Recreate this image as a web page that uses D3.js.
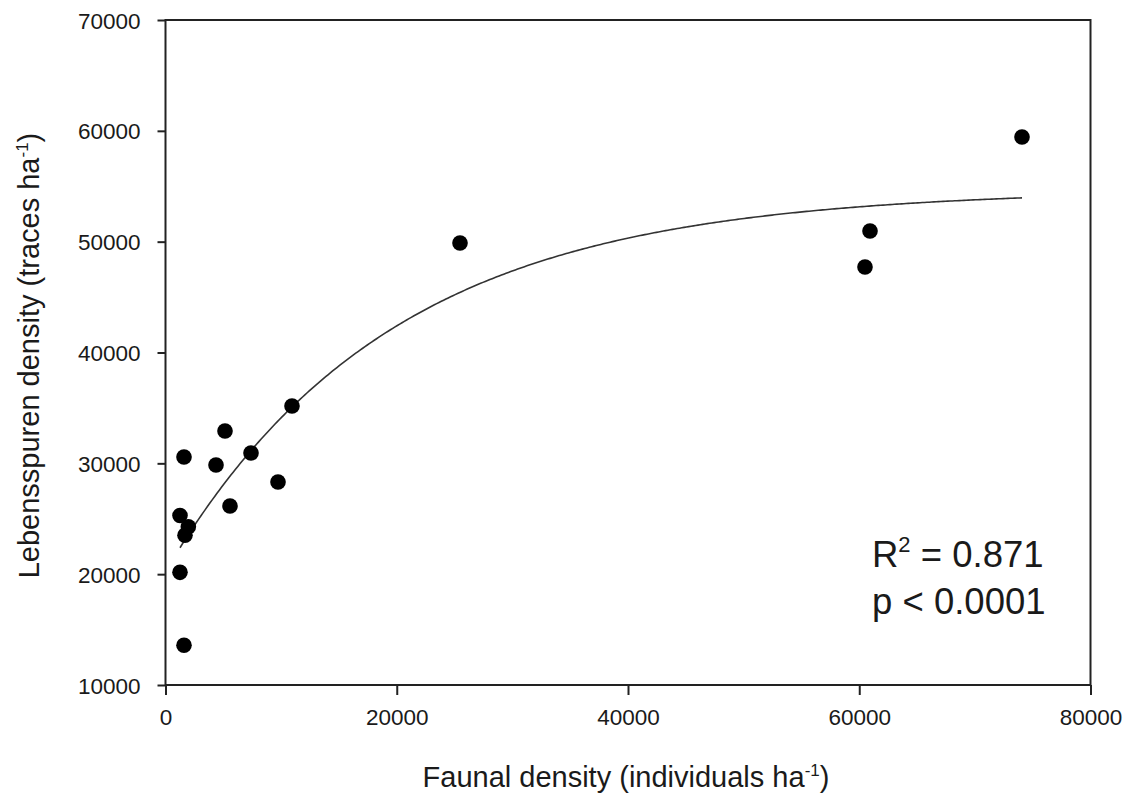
<!DOCTYPE html>
<html>
<head>
<meta charset="utf-8">
<script src="https://cdn.jsdelivr.net/npm/d3@7"></script>
<style>
  body { margin: 0; background: #fff; }
  text { font-family: "Liberation Sans", Arial, sans-serif; fill: #1a1a1a; }
</style>
</head>
<body>
<div id="chart"></div>
<script>
// faunal density (individuals ha-1)
const faunal = [74076, 60930, 60497, 25470, 10940, 7395, 5146, 4368, 9730, 5578, 1600, 1254, 1975, 1686, 1254, 1600];
// Lebensspuren density (traces ha-1)
const traces = [59443, 50962, 47714, 49880, 35172, 30932, 32916, 29848, 28315, 26149, 30570, 25288, 24280, 23520, 20166, 13580];

const xTicks = [0, 20000, 40000, 60000, 80000];
const yTicks = [10000, 20000, 30000, 40000, 50000, 60000, 70000];

// exponential rise to max: y = y0 + a * (1 - exp(-b x))
const fitY0 = 20230, fitA = 34482, fitB = 5.15e-5;

const width = 1133, height = 802;
const margin = { left: 165.5, right: 42.5, top: 20, bottom: 117 };
const innerW = width - margin.left - margin.right;
const innerH = height - margin.top - margin.bottom;

const svg = d3.select("#chart").append("svg")
  .attr("width", width)
  .attr("height", height);

const g = svg.append("g")
  .attr("transform", `translate(${margin.left},${margin.top})`);

const x = d3.scaleLinear().domain([0, 80000]).range([0, innerW]);
const y = d3.scaleLinear().domain([10000, 70000]).range([innerH, 0]);

// frame
g.append("rect")
  .attr("width", innerW)
  .attr("height", innerH)
  .attr("fill", "none")
  .attr("stroke", "#222")
  .attr("stroke-width", 2);

const axisX = g.append("g")
  .attr("transform", `translate(0,${innerH})`)
  .call(d3.axisBottom(x).tickValues(xTicks).tickFormat(d3.format("d")).tickSize(10).tickPadding(14));
const axisY = g.append("g")
  .call(d3.axisLeft(y).tickValues(yTicks).tickFormat(d3.format("d")).tickSize(8).tickPadding(17));

[axisX, axisY].forEach((a) => {
  a.select(".domain").remove();
  a.selectAll(".tick line").attr("stroke", "#222").attr("stroke-width", 2);
  a.selectAll(".tick text").attr("font-size", 22.5).attr("fill", "#1a1a1a");
});
axisY.selectAll(".tick text").attr("dy", "0.36em");

// fitted curve
const xs = d3.range(d3.min(faunal), d3.max(faunal), 200).concat([d3.max(faunal)]);
const line = d3.line()
  .x((d) => x(d))
  .y((d) => y(fitY0 + fitA * (1 - Math.exp(-fitB * d))));
g.append("path")
  .datum(xs)
  .attr("d", line)
  .attr("fill", "none")
  .attr("stroke", "#333")
  .attr("stroke-width", 1.6);

// points
g.append("g")
  .selectAll("circle")
  .data(faunal.map((d, i) => [d, traces[i]]))
  .join("circle")
  .attr("cx", (d) => x(d[0]))
  .attr("cy", (d) => y(d[1]))
  .attr("r", 7.8)
  .attr("fill", "#000");

// axis titles
const xt = svg.append("text")
  .attr("x", margin.left + innerW / 2 - 2)
  .attr("y", 787)
  .attr("text-anchor", "middle")
  .attr("font-size", 29);
xt.append("tspan").text("Faunal density (individuals ha");
xt.append("tspan").attr("font-size", 17).attr("dy", -11).text("-1");
xt.append("tspan").attr("dy", 11).text(")");

const yt = svg.append("text")
  .attr("transform", `translate(39,${margin.top + innerH / 2 + 3}) rotate(-90)`)
  .attr("text-anchor", "middle")
  .attr("font-size", 29);
yt.append("tspan").text("Lebensspuren density (traces ha");
yt.append("tspan").attr("font-size", 17).attr("dy", -11).text("-1");
yt.append("tspan").attr("dy", 11).text(")");

// statistics
const st = svg.append("text")
  .attr("x", 872)
  .attr("y", 567)
  .attr("font-size", 36.5);
st.append("tspan").text("R");
st.append("tspan").attr("font-size", 22).attr("dy", -15).text("2");
st.append("tspan").attr("dy", 15).text(" = 0.871");
svg.append("text")
  .attr("x", 872)
  .attr("y", 614)
  .attr("font-size", 36.5)
  .text("p < 0.0001");
</script>
</body>
</html>
